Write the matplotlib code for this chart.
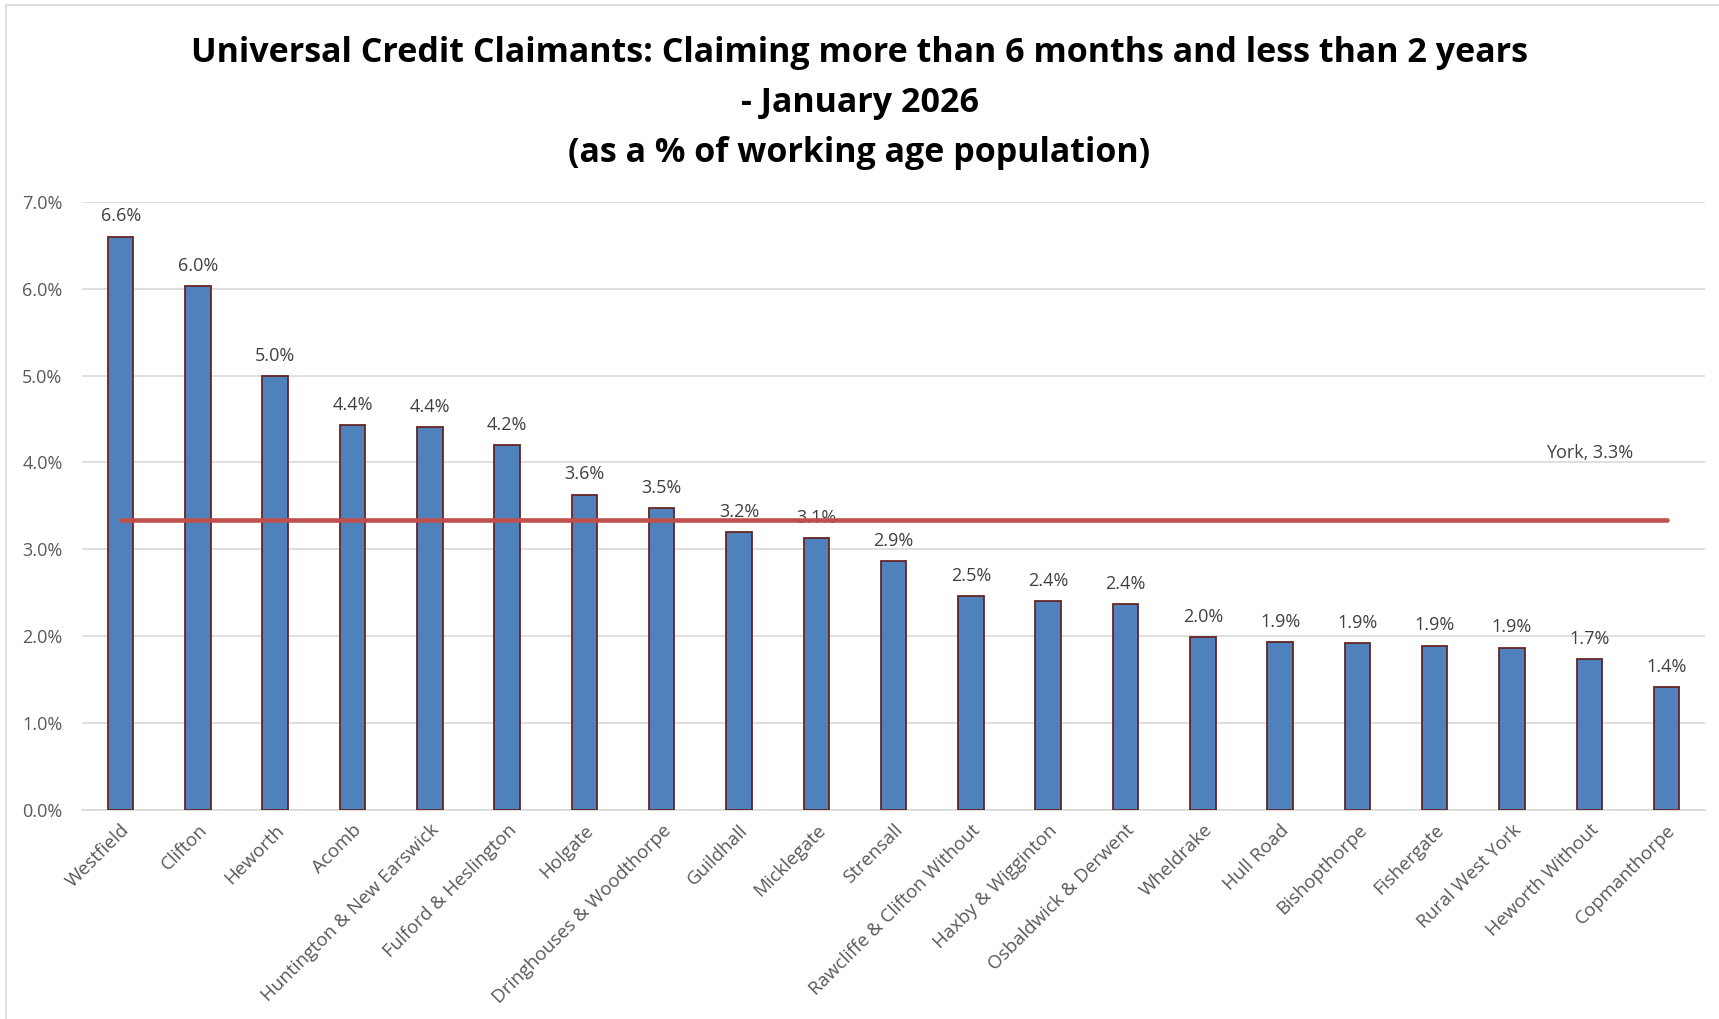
import numpy as np
import matplotlib
matplotlib.use('Agg')
import matplotlib.pyplot as plt
from matplotlib.lines import Line2D

plt.rcParams['font.family'] = ['Open Sans', 'DejaVu Sans']

wards = ['Westfield', 'Clifton', 'Heworth', 'Acomb', 'Huntington & New Earswick',
         'Fulford & Heslington', 'Holgate', 'Dringhouses & Woodthorpe', 'Guildhall',
         'Micklegate', 'Strensall', 'Rawcliffe & Clifton Without', 'Haxby & Wigginton',
         'Osbaldwick & Derwent', 'Wheldrake', 'Hull Road', 'Bishopthorpe', 'Fishergate',
         'Rural West York', 'Heworth Without', 'Copmanthorpe']
pct = [6.60, 6.03, 4.99, 4.43, 4.41, 4.20, 3.63, 3.47, 3.20, 3.13, 2.86, 2.46,
       2.40, 2.37, 1.99, 1.93, 1.92, 1.89, 1.87, 1.74, 1.41]
york = 3.34
york_label = 'York, 3.3%'

title = ('Universal Credit Claimants: Claiming more than 6 months and less than 2 years\n'
         '- January 2026\n(as a % of working age population)')

fig = plt.figure(figsize=(17.19, 10.19), dpi=100)
ax = fig.add_axes([0.0477, 0.2051, 0.9443, 0.5969])

x = np.arange(len(wards))
vals = np.array(pct) / 100
ax.bar(x, vals, width=0.33, color='#4f81bd', edgecolor='#632523', linewidth=1.3, zorder=3)

for xi, v in zip(x, pct):
    ax.text(xi, v / 100 + 0.0013, '%.1f%%' % v, ha='center', va='bottom',
            fontsize=13, color='#404040', zorder=4)

# York average line
ax.plot([x[0], x[-1]], [york / 100, york / 100], color='#c0504d', linewidth=3.3,
        solid_capstyle='round', zorder=4)
ax.text(19, 0.0400, york_label, ha='center', va='bottom', fontsize=13, color='#404040')

ax.set_xlim(-0.5, len(wards) - 0.5)
ax.set_ylim(0, 0.07)
ax.set_yticks(np.arange(0, 0.0701, 0.01))
ax.set_yticklabels(['%.1f%%' % (t * 100) for t in np.arange(0, 0.0701, 0.01)])
ax.yaxis.grid(True, color='#d9d9d9', linewidth=1.2, zorder=0)
ax.set_axisbelow(True)
for s in ['top', 'right', 'left']:
    ax.spines[s].set_visible(False)
ax.spines['bottom'].set_color('#d9d9d9')
ax.spines['bottom'].set_linewidth(1.2)
ax.tick_params(axis='both', length=0, labelsize=13, labelcolor='#595959')
ax.tick_params(axis='x', labelsize=13.5)
ax.tick_params(axis='y', pad=14)
ax.tick_params(axis='x', pad=8)
ax.set_xticks(x)
ax.set_xticklabels(wards, rotation=45, ha='right', rotation_mode='anchor')

fig.text(0.5, 0.899, title, ha='center', va='center', fontsize=24.5, fontweight='bold',
         color='black', linespacing=1.6)

# thin chart border on the left and top
fig.add_artist(Line2D([0.0035, 0.0035], [0, 0.995], transform=fig.transFigure,
                      color='#d9d9d9', linewidth=1.2))
fig.add_artist(Line2D([0.0035, 1], [0.995, 0.995], transform=fig.transFigure,
                      color='#d9d9d9', linewidth=1.2))

fig.savefig('out.png', dpi=100)
